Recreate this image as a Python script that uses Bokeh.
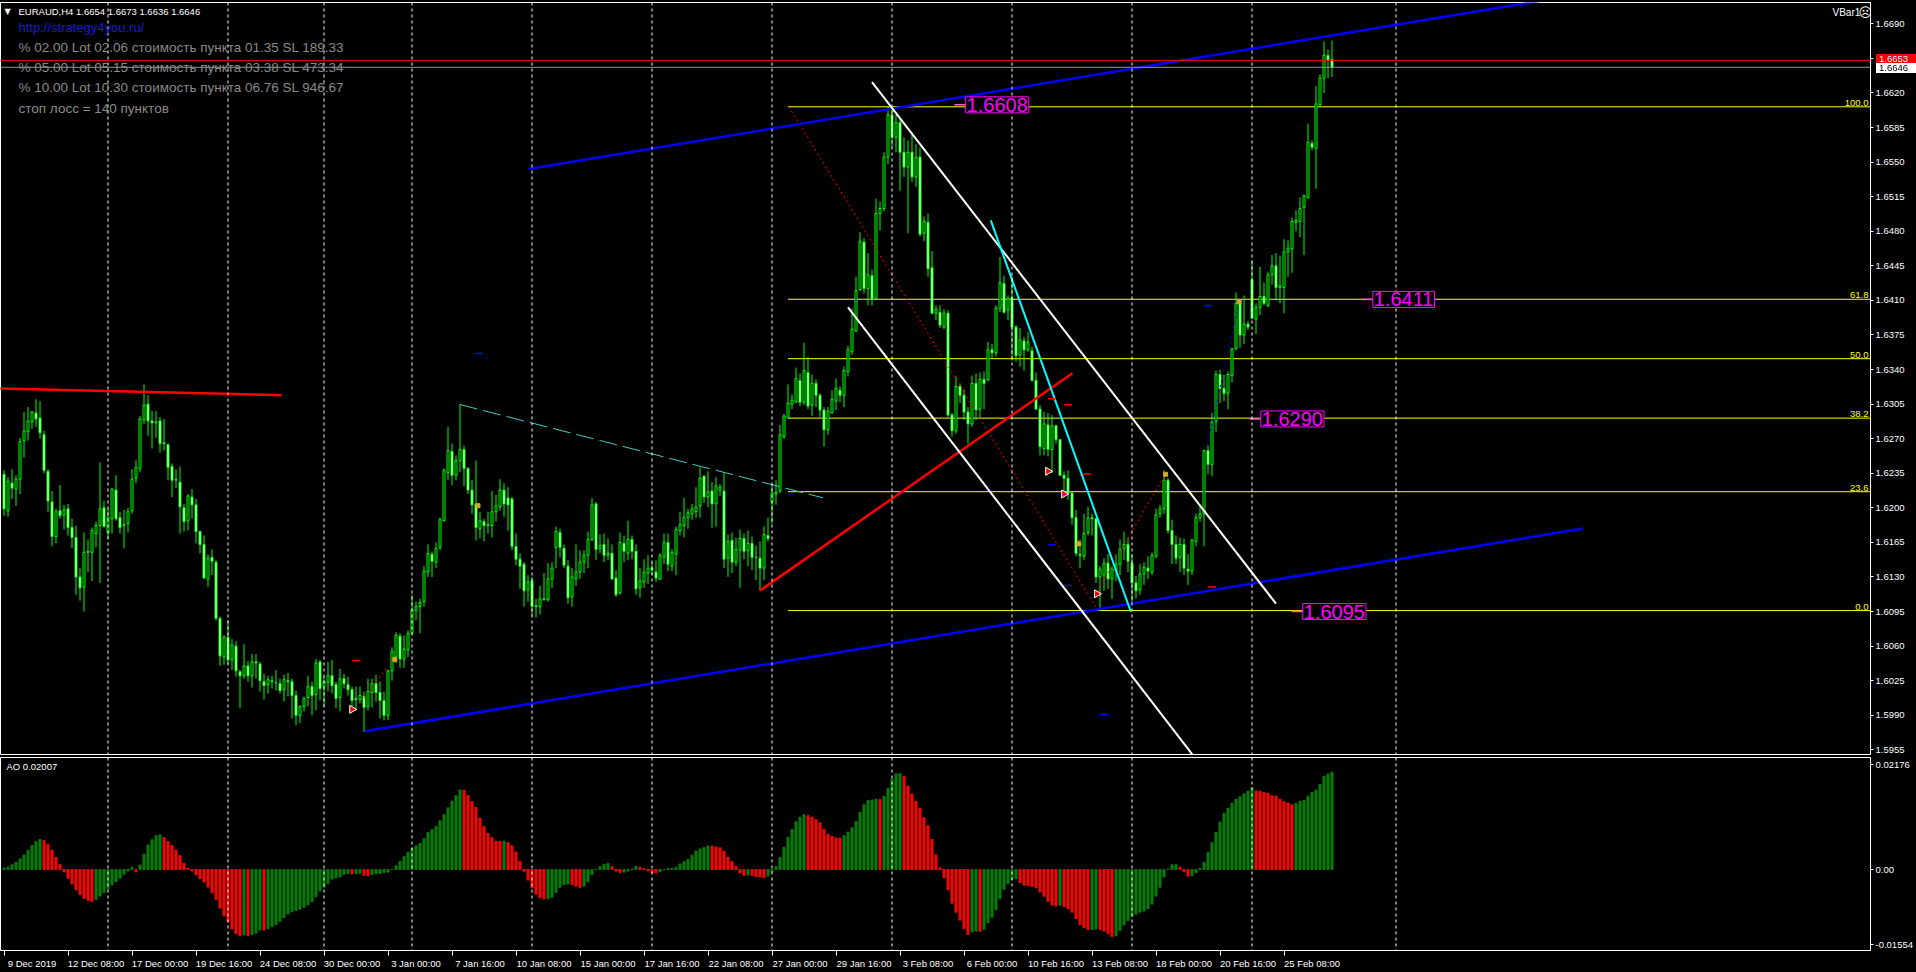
import numpy as np
import pandas as pd
from bokeh.plotting import figure
from bokeh.layouts import column
from bokeh.models import (ColumnDataSource, Range1d, FixedTicker, LinearAxis, Span, Label,
                          PrintfTickFormatter, CustomJSTickFormatter, GlobalInlineStyleSheet)
from bokeh.embed import file_html
from bokeh.resources import INLINE

# ---------------- data: EURAUD H4 candles ----------------
opens = [
1.6234,1.6197,1.6225,1.6219,1.6229,1.6268,1.6277,1.6287,1.6296,1.6291,
1.6274,1.6237,1.6206,1.6171,1.6197,1.6193,1.6199,1.6180,1.6170,1.6130,
1.6120,1.6155,1.6155,1.6174,1.6182,1.6200,1.6175,1.6189,1.6218,1.6190,
1.6182,1.6184,1.6197,1.6230,1.6240,1.6289,1.6305,1.6288,1.6286,1.6288,
1.6265,1.6264,1.6242,1.6228,1.6226,1.6200,1.6187,1.6211,1.6203,1.6176,
1.6163,1.6128,1.6150,1.6145,1.6088,1.6049,1.6069,1.6046,1.6060,1.6034,
1.6030,1.6040,1.6030,1.6044,1.6042,1.6024,1.6021,1.6024,1.6023,1.6022,
1.6016,1.6025,1.6024,1.6010,1.5990,1.5999,1.6008,1.6019,1.6011,1.6044,
1.6019,1.6023,1.6030,1.6021,1.6008,1.6027,1.6021,1.6016,1.6006,1.6006,
1.6009,1.5999,1.6013,1.6022,1.6013,1.6005,1.5990,1.6035,1.6049,1.6070,
1.6047,1.6056,1.6073,1.6096,1.6100,1.6105,1.6135,1.6153,1.6145,1.6160,
1.6187,1.6236,1.6257,1.6233,1.6248,1.6259,1.6240,1.6218,1.6204,1.6179,
1.6186,1.6182,1.6182,1.6196,1.6201,1.6218,1.6210,1.6209,1.6161,1.6148,
1.6143,1.6117,1.6126,1.6100,1.6100,1.6107,1.6107,1.6128,1.6160,1.6175,
1.6159,1.6141,1.6110,1.6128,1.6135,1.6145,1.6152,1.6168,1.6204,1.6159,
1.6163,1.6152,1.6154,1.6129,1.6114,1.6164,1.6154,1.6168,1.6156,1.6119,
1.6125,1.6134,1.6139,1.6135,1.6128,1.6150,1.6165,1.6141,1.6153,1.6177,
1.6182,1.6190,1.6194,1.6196,1.6202,1.6232,1.6211,1.6217,1.6204,1.6218,
1.6217,1.6149,1.6167,1.6145,1.6157,1.6169,1.6157,1.6164,1.6150,1.6149,
1.6139,1.6172,1.6206,1.6214,1.6217,1.6272,1.6291,1.6305,1.6307,1.6329,
1.6307,1.6337,1.6304,1.6326,1.6314,1.6299,1.6279,1.6296,1.6308,1.6319,
1.6314,1.6338,1.6358,1.6379,1.6421,1.6469,1.6422,1.6435,1.6412,1.6498,
1.6503,1.6555,1.6598,1.6575,1.6590,1.6560,1.6545,1.6560,1.6535,1.6555,
1.6478,1.6489,1.6443,1.6397,1.6398,1.6383,1.6397,1.6294,1.6278,1.6323,
1.6314,1.6297,1.6285,1.6326,1.6300,1.6330,1.6330,1.6360,1.6357,1.6402,
1.6427,1.6400,1.6413,1.6383,1.6355,1.6369,1.6360,1.6359,1.6329,1.6300,
1.6260,1.6284,1.6259,1.6283,1.6269,1.6233,1.6230,1.6215,1.6190,1.6153,
1.6151,1.6175,1.6190,1.6189,1.6130,1.6132,1.6144,1.6128,1.6137,1.6143,
1.6159,1.6163,1.6144,1.6124,1.6117,1.6133,1.6139,1.6135,1.6151,1.6194,
1.6199,1.6228,1.6177,1.6163,1.6150,1.6163,1.6138,1.6136,1.6166,1.6190,
1.6194,1.6258,1.6244,1.6287,1.6335,1.6321,1.6316,1.6334,1.6361,1.6407,
1.6375,1.6386,1.6431,1.6391,1.6403,1.6414,1.6405,1.6436,1.6445,1.6423,
1.6423,1.6459,1.6462,1.6489,1.6490,1.6504,1.6514,1.6569,1.6564,1.6608,
1.6635,1.6658,1.6654]

highs = [
1.6238,1.6231,1.6239,1.6233,1.6271,1.6297,1.6302,1.6298,1.6310,1.6308,
1.6278,1.6239,1.6217,1.6199,1.6223,1.6203,1.6204,1.6189,1.6182,1.6139,
1.6175,1.6168,1.6180,1.6186,1.6246,1.6207,1.6199,1.6220,1.6233,1.6196,
1.6198,1.6200,1.6239,1.6248,1.6293,1.6325,1.6314,1.6298,1.6298,1.6292,
1.6290,1.6265,1.6245,1.6239,1.6242,1.6204,1.6214,1.6219,1.6209,1.6177,
1.6172,1.6153,1.6158,1.6147,1.6090,1.6071,1.6086,1.6067,1.6065,1.6036,
1.6062,1.6045,1.6052,1.6052,1.6044,1.6032,1.6030,1.6030,1.6036,1.6027,
1.6031,1.6033,1.6027,1.6015,1.6000,1.6009,1.6030,1.6024,1.6047,1.6046,
1.6029,1.6044,1.6046,1.6024,1.6037,1.6032,1.6029,1.6019,1.6019,1.6019,
1.6014,1.6027,1.6027,1.6031,1.6024,1.6014,1.6036,1.6059,1.6074,1.6073,
1.6071,1.6076,1.6112,1.6105,1.6108,1.6141,1.6163,1.6156,1.6165,1.6190,
1.6240,1.6282,1.6265,1.6253,1.6305,1.6263,1.6241,1.6228,1.6248,1.6196,
1.6189,1.6196,1.6217,1.6213,1.6229,1.6225,1.6221,1.6211,1.6174,1.6154,
1.6145,1.6132,1.6130,1.6108,1.6121,1.6134,1.6144,1.6145,1.6181,1.6179,
1.6163,1.6147,1.6139,1.6163,1.6157,1.6157,1.6176,1.6210,1.6206,1.6173,
1.6174,1.6169,1.6163,1.6137,1.6175,1.6172,1.6187,1.6172,1.6163,1.6139,
1.6148,1.6152,1.6145,1.6147,1.6154,1.6174,1.6174,1.6158,1.6181,1.6196,
1.6210,1.6199,1.6204,1.6221,1.6241,1.6233,1.6237,1.6226,1.6231,1.6224,
1.6235,1.6173,1.6175,1.6170,1.6178,1.6174,1.6177,1.6171,1.6162,1.6166,
1.6181,1.6190,1.6224,1.6228,1.6284,1.6295,1.6325,1.6315,1.6342,1.6336,
1.6367,1.6353,1.6335,1.6330,1.6316,1.6302,1.6302,1.6319,1.6331,1.6323,
1.6343,1.6364,1.6402,1.6434,1.6479,1.6473,1.6458,1.6441,1.6513,1.6510,
1.6560,1.6606,1.6606,1.6598,1.6595,1.6575,1.6572,1.6580,1.6568,1.6565,
1.6495,1.6498,1.6460,1.6405,1.6405,1.6401,1.6400,1.6296,1.6333,1.6326,
1.6320,1.6302,1.6334,1.6336,1.6337,1.6338,1.6368,1.6366,1.6405,1.6454,
1.6435,1.6415,1.6434,1.6385,1.6382,1.6373,1.6378,1.6363,1.6337,1.6304,
1.6297,1.6296,1.6294,1.6284,1.6270,1.6237,1.6238,1.6216,1.6198,1.6168,
1.6194,1.6201,1.6194,1.6190,1.6141,1.6149,1.6153,1.6141,1.6153,1.6168,
1.6176,1.6170,1.6153,1.6131,1.6143,1.6145,1.6151,1.6155,1.6199,1.6203,
1.6238,1.6230,1.6188,1.6172,1.6170,1.6169,1.6153,1.6169,1.6194,1.6203,
1.6259,1.6263,1.6296,1.6339,1.6340,1.6335,1.6338,1.6362,1.6418,1.6409,
1.6415,1.6389,1.6450,1.6407,1.6444,1.6428,1.6439,1.6456,1.6458,1.6455,
1.6472,1.6471,1.6494,1.6501,1.6514,1.6517,1.6589,1.6572,1.6627,1.6639,
1.6672,1.6664,1.6673]

lows = [
1.6192,1.6191,1.6209,1.6202,1.6214,1.6251,1.6268,1.6280,1.6282,1.6270,
1.6235,1.6196,1.6161,1.6164,1.6189,1.6178,1.6172,1.6159,1.6112,1.6106,
1.6095,1.6135,1.6126,1.6160,1.6124,1.6180,1.6169,1.6174,1.6187,1.6174,
1.6159,1.6175,1.6194,1.6225,1.6236,1.6285,1.6273,1.6260,1.6271,1.6256,
1.6258,1.6228,1.6211,1.6220,1.6174,1.6176,1.6177,1.6189,1.6164,1.6154,
1.6128,1.6120,1.6132,1.6086,1.6040,1.6041,1.6042,1.6036,1.6029,1.5997,
1.6027,1.6024,1.6018,1.6027,1.6014,1.6006,1.6012,1.6017,1.6015,1.6012,
1.6004,1.6009,1.5987,1.5980,1.5982,1.5994,1.5999,1.5990,1.5995,1.6005,
1.5999,1.6014,1.6012,1.5997,1.5994,1.6017,1.6010,1.5997,1.5995,1.6002,
1.5973,1.5995,1.5998,1.6004,1.5987,1.5985,1.5985,1.6025,1.6043,1.6038,
1.6038,1.6049,1.6073,1.6086,1.6073,1.6100,1.6130,1.6130,1.6139,1.6157,
1.6186,1.6228,1.6223,1.6228,1.6236,1.6222,1.6214,1.6194,1.6167,1.6169,
1.6166,1.6174,1.6170,1.6186,1.6197,1.6191,1.6177,1.6157,1.6142,1.6118,
1.6100,1.6105,1.6091,1.6089,1.6092,1.6106,1.6105,1.6119,1.6139,1.6150,
1.6139,1.6103,1.6100,1.6121,1.6128,1.6134,1.6139,1.6166,1.6147,1.6154,
1.6145,1.6147,1.6127,1.6110,1.6112,1.6145,1.6147,1.6148,1.6112,1.6109,
1.6119,1.6123,1.6132,1.6125,1.6127,1.6143,1.6136,1.6136,1.6132,1.6172,
1.6170,1.6179,1.6188,1.6190,1.6190,1.6205,1.6201,1.6180,1.6181,1.6212,
1.6139,1.6130,1.6134,1.6141,1.6119,1.6148,1.6141,1.6137,1.6127,1.6116,
1.6127,1.6166,1.6184,1.6203,1.6215,1.6270,1.6291,1.6300,1.6306,1.6303,
1.6304,1.6300,1.6293,1.6302,1.6292,1.6262,1.6274,1.6296,1.6299,1.6307,
1.6302,1.6333,1.6355,1.6378,1.6419,1.6417,1.6405,1.6405,1.6411,1.6481,
1.6500,1.6548,1.6565,1.6560,1.6521,1.6535,1.6478,1.6530,1.6525,1.6475,
1.6470,1.6434,1.6396,1.6390,1.6382,1.6381,1.6292,1.6272,1.6275,1.6306,
1.6289,1.6265,1.6282,1.6289,1.6291,1.6300,1.6328,1.6351,1.6353,1.6398,
1.6397,1.6390,1.6349,1.6348,1.6343,1.6339,1.6358,1.6328,1.6299,1.6253,
1.6253,1.6252,1.6235,1.6265,1.6232,1.6213,1.6208,1.6183,1.6151,1.6139,
1.6147,1.6172,1.6172,1.6124,1.6099,1.6116,1.6118,1.6108,1.6126,1.6132,
1.6147,1.6135,1.6103,1.6108,1.6112,1.6122,1.6128,1.6132,1.6149,1.6190,
1.6194,1.6174,1.6143,1.6143,1.6135,1.6132,1.6122,1.6132,1.6161,1.6186,
1.6161,1.6234,1.6232,1.6277,1.6306,1.6308,1.6300,1.6327,1.6360,1.6362,
1.6366,1.6380,1.6391,1.6376,1.6395,1.6405,1.6403,1.6426,1.6410,1.6407,
1.6397,1.6434,1.6438,1.6480,1.6474,1.6456,1.6513,1.6562,1.6523,1.6606,
1.6620,1.6635,1.6636]

closes = [
1.6199,1.6227,1.6220,1.6229,1.6267,1.6278,1.6288,1.6297,1.6290,1.6276,
1.6238,1.6207,1.6171,1.6196,1.6192,1.6198,1.6180,1.6170,1.6130,1.6119,
1.6155,1.6156,1.6177,1.6182,1.6199,1.6181,1.6190,1.6219,1.6189,1.6180,
1.6183,1.6196,1.6229,1.6241,1.6290,1.6304,1.6288,1.6286,1.6287,1.6265,
1.6266,1.6241,1.6228,1.6229,1.6201,1.6186,1.6212,1.6203,1.6176,1.6163,
1.6129,1.6149,1.6146,1.6088,1.6050,1.6069,1.6046,1.6061,1.6035,1.6030,
1.6040,1.6030,1.6044,1.6043,1.6025,1.6020,1.6026,1.6025,1.6023,1.6015,
1.6026,1.6024,1.6010,1.5990,1.5999,1.6007,1.6019,1.6010,1.6043,1.6017,
1.6024,1.6030,1.6020,1.6007,1.6027,1.6022,1.6016,1.6005,1.6007,1.6010,
1.5998,1.6014,1.6022,1.6013,1.6005,1.5990,1.6035,1.6055,1.6071,1.6047,
1.6057,1.6073,1.6097,1.6100,1.6104,1.6136,1.6154,1.6146,1.6159,1.6188,
1.6238,1.6258,1.6233,1.6248,1.6259,1.6240,1.6218,1.6203,1.6180,1.6187,
1.6182,1.6183,1.6196,1.6202,1.6218,1.6204,1.6203,1.6161,1.6148,1.6141,
1.6116,1.6125,1.6100,1.6101,1.6108,1.6108,1.6128,1.6139,1.6176,1.6160,
1.6142,1.6109,1.6130,1.6135,1.6145,1.6152,1.6168,1.6203,1.6158,1.6162,
1.6152,1.6154,1.6128,1.6112,1.6165,1.6156,1.6168,1.6156,1.6118,1.6126,
1.6135,1.6139,1.6137,1.6129,1.6152,1.6165,1.6143,1.6155,1.6178,1.6183,
1.6190,1.6195,1.6199,1.6201,1.6230,1.6211,1.6216,1.6204,1.6222,1.6221,
1.6148,1.6166,1.6145,1.6158,1.6169,1.6156,1.6164,1.6150,1.6150,1.6139,
1.6173,1.6169,1.6215,1.6216,1.6274,1.6293,1.6306,1.6309,1.6331,1.6307,
1.6339,1.6303,1.6326,1.6314,1.6299,1.6279,1.6298,1.6310,1.6321,1.6314,
1.6339,1.6360,1.6381,1.6420,1.6470,1.6422,1.6436,1.6411,1.6498,1.6503,
1.6555,1.6598,1.6575,1.6590,1.6560,1.6545,1.6560,1.6535,1.6555,1.6477,
1.6490,1.6442,1.6397,1.6401,1.6385,1.6397,1.6294,1.6278,1.6323,1.6314,
1.6297,1.6285,1.6326,1.6299,1.6330,1.6326,1.6360,1.6357,1.6402,1.6428,
1.6398,1.6412,1.6383,1.6354,1.6370,1.6360,1.6368,1.6329,1.6300,1.6262,
1.6285,1.6259,1.6283,1.6269,1.6233,1.6230,1.6215,1.6190,1.6154,1.6152,
1.6174,1.6190,1.6189,1.6130,1.6138,1.6144,1.6128,1.6138,1.6143,1.6158,
1.6163,1.6146,1.6124,1.6116,1.6133,1.6140,1.6136,1.6152,1.6193,1.6199,
1.6228,1.6177,1.6163,1.6149,1.6163,1.6139,1.6136,1.6167,1.6190,1.6194,
1.6258,1.6244,1.6287,1.6335,1.6321,1.6316,1.6335,1.6361,1.6407,1.6375,
1.6386,1.6383,1.6392,1.6403,1.6414,1.6407,1.6436,1.6445,1.6423,1.6425,
1.6459,1.6463,1.6490,1.6491,1.6503,1.6516,1.6570,1.6565,1.6609,1.6635,
1.6658,1.6653,1.6646]

# AO values of the first 33 bars (history before the window)
ao_head = [0.0003, 0.0005, 0.0010, 0.0015, 0.0022, 0.0030, 0.0040, 0.0050, 0.0058, 0.0062,
           0.0060, 0.0052, 0.0040, 0.0025, 0.0010, -0.0005, -0.0018, -0.0030, -0.0042, -0.0052,
           -0.0060, -0.0064, -0.0066, -0.0062, -0.0055, -0.0048, -0.0040, -0.0032, -0.0025, -0.0018,
           -0.0010, -0.0003, 0.0005]

# time axis
date_tick_bars = [0, 16, 32, 48, 64, 80, 96, 112, 128, 144, 160, 176, 192, 208, 224, 240, 256, 272, 288, 304, 320]
date_tick_labels = ["9 Dec 2019", "12 Dec 08:00", "17 Dec 00:00", "19 Dec 16:00", "24 Dec 08:00",
                    "30 Dec 00:00", "3 Jan 00:00", "7 Jan 16:00", "10 Jan 08:00", "15 Jan 00:00",
                    "17 Jan 16:00", "22 Jan 08:00", "27 Jan 00:00", "29 Jan 16:00", "3 Feb 08:00",
                    "6 Feb 00:00", "10 Feb 16:00", "13 Feb 08:00", "18 Feb 00:00", "20 Feb 16:00",
                    "25 Feb 08:00"]
week_grid_bars = [26, 56, 80, 102, 132, 162, 192, 222, 252, 282, 312, 348]
price_ticks = [1.5955, 1.5990, 1.6025, 1.6060, 1.6095, 1.6130, 1.6165, 1.6200, 1.6235, 1.6270,
               1.6305, 1.6340, 1.6375, 1.6410, 1.6445, 1.6480, 1.6515, 1.6550, 1.6585, 1.6620,
               1.6655, 1.6690]
ao_ticks = [-0.01554, 0.0, 0.02176]

# fibonacci
fib_high, fib_low = 1.6606, 1.6096
fib_levels = [100.0, 61.8, 50.0, 38.2, 23.6, 0.0]
fib_start_bar = 196

# bid / ask
ask_price, bid_price = 1.6653, 1.6646

# user price labels (magenta)
mark_prices = [1.6608, 1.6411, 1.6290, 1.6095]
mark_bars = [240.4, 342.2, 314.2, 324.7]

# trend lines: (x0, y0, x1, y1)
blue_lines = [(131.2, 1.6543, 400.0, 1.6724), (90.2, 1.59738, 394.8, 1.61791)]
white_lines = [(217.0, 1.6631, 318.0, 1.6103), (211.0, 1.6403, 300.0, 1.5935)]
red_solid_lines = [(-2.0, 1.6321, 69.4, 1.6314), (189.0, 1.61163, 267.1, 1.63363)]
cyan_solid_lines = [(246.7, 1.6491, 281.7, 1.6095)]
cyan_dashed_lines = [(114.0, 1.63046, 204.8, 1.62101)]
red_dotted_lines = [(196.2, 1.6606, 273.5, 1.6096), (272.8, 1.6112, 290.3, 1.6234), (89.3, 1.6003, 96.0, 1.6040)]
blue_dotted_lines = [(300.8, 1.6263, 308.8, 1.6409)]
red_dash_marks = [(87.1, 1.60455), (261.0, 1.63104), (265.0, 1.63043), (269.8, 1.62342), (301.0, 1.61199)]
blue_dash_marks = [(117.7, 1.63563), (261.0, 1.61626), (265.0, 1.61213), (300.0, 1.64048), (274.0, 1.59911)]
arrow_marks = [(87.0, 1.5996), (261.0, 1.6237), (265.0, 1.6214), (273.2, 1.6113)]
orange_marks = [(97.7, 1.60466), (118.5, 1.62022), (268.7, 1.61636), (290.4, 1.6234), (308.8, 1.64086)]

# ---------------- derived ----------------
o = np.array(opens); h = np.array(highs); l = np.array(lows); c = np.array(closes)
n = len(c)
idx = np.arange(n)
bull = c >= o
median = pd.Series((h + l) / 2.0)
ao = (median.rolling(5).mean() - median.rolling(34).mean()).to_numpy()
ao[:len(ao_head)] = ao_head
ao_col = ["#008000"] + ["#008000" if ao[i] > ao[i - 1] else "#FF0000" for i in range(1, n)]

FONT = "Liberation Sans"
W = 1916
FRAME_W = 1870
X0 = -0.875
P_TOP, P_BOT = 1.67116, 1.59503
A_TOP, A_BOT = 0.023211, -0.016783


def py(yp):
    return P_TOP - (yp - 2) * (P_TOP - P_BOT) / 752.0


def ay(yp):
    return A_TOP - (yp - 757) * (A_TOP - A_BOT) / 193.0


xr = Range1d(X0, X0 + FRAME_W / 4.0)

main = figure(width=W, height=756, x_range=xr, y_range=Range1d(P_BOT, P_TOP),
              output_backend="svg", toolbar_location=None, x_axis_location=None,
              y_axis_location="right", min_border_left=0, min_border_right=46,
              min_border_top=2, min_border_bottom=2, background_fill_color="black",
              border_fill_color="black", outline_line_color="white")
main.grid.visible = False

ao_fig = figure(width=W, height=215, x_range=xr, y_range=Range1d(A_BOT, A_TOP),
                output_backend="svg", toolbar_location=None, x_axis_location=None,
                y_axis_location="right", min_border_left=0, min_border_right=46,
                min_border_top=1, min_border_bottom=21, background_fill_color="black",
                border_fill_color="black", outline_line_color="white")
ao_fig.grid.visible = False


def style_y(ax):
    ax.axis_line_color = "white"
    ax.major_tick_line_color = "white"
    ax.major_tick_out = 3
    ax.major_tick_in = 0
    ax.minor_tick_out = 0
    ax.minor_tick_in = 0
    ax.major_label_standoff = 2
    ax.major_label_text_color = "white"
    ax.major_label_text_font = FONT
    ax.major_label_text_font_size = "9.5px"


for ax in main.yaxis:
    style_y(ax)
    ax.ticker = FixedTicker(ticks=price_ticks)
    ax.formatter = PrintfTickFormatter(format="%.4f")
for ax in ao_fig.yaxis:
    style_y(ax)
    ax.ticker = FixedTicker(ticks=ao_ticks)
    ax.formatter = CustomJSTickFormatter(code="return tick === 0 ? '0.00' : tick.toFixed(5);")

# time axis: small tick marks (minor ticks) at each date, label placed just right of it
label_pos = [b + 7 for b in date_tick_bars]
time_axis = LinearAxis(ticker=FixedTicker(ticks=label_pos, minor_ticks=date_tick_bars),
                       axis_line_color="white", major_tick_line_color=None,
                       major_tick_out=5, major_tick_in=0,
                       minor_tick_line_color="white", minor_tick_out=5, minor_tick_in=0,
                       major_label_standoff=2, major_label_text_color="white",
                       major_label_text_font=FONT, major_label_text_font_size="9.5px",
                       major_label_overrides={p: t for p, t in zip(label_pos, date_tick_labels)})
ao_fig.add_layout(time_axis, "below")

# weekly dashed grid
for b in week_grid_bars:
    for fig in (main, ao_fig):
        fig.add_layout(Span(location=b, dimension="height", line_color="white",
                            line_width=1, line_dash="3 3"))

# fib levels
fib_prices = [fib_low + lv / 100.0 * (fib_high - fib_low) for lv in fib_levels]
main.segment(x0=[fib_start_bar] * len(fib_prices), y0=fib_prices, x1=[1000] * len(fib_prices),
             y1=fib_prices, line_color="#FFFF00", line_width=1)
for lv, pr in zip(fib_levels, fib_prices):
    main.add_layout(Label(x=FRAME_W - 2, y=pr, x_units="screen", text=f"{lv:.1f}",
                          text_align="right", text_baseline="bottom", y_offset=1,
                          text_color="#FFFF00", text_font=FONT, text_font_size="9.5px"))

# ask / bid lines
main.add_layout(Span(location=ask_price, dimension="width", line_color="#FF0000", line_width=1))
main.add_layout(Span(location=bid_price, dimension="width", line_color="#8C96A0", line_width=1))

# candles
src = ColumnDataSource(dict(x=idx, h=h, l=l, top=np.maximum(o, c), bot=np.minimum(o, c),
                            fill=np.where(bull, "#000000", "#FFFFFF")))
main.segment(x0="x", y0="l", x1="x", y1="h", source=src, line_color="#00FF00", line_width=1)
main.vbar(x="x", width=0.5, top="top", bottom="bot", source=src, fill_color="fill",
          line_color="#00FF00", line_width=1)


def draw_lines(lines, color, width, dash="solid"):
    main.segment(x0=[s[0] for s in lines], y0=[s[1] for s in lines],
                 x1=[s[2] for s in lines], y1=[s[3] for s in lines],
                 line_color=color, line_width=width, line_dash=dash)


draw_lines(red_dotted_lines, "#FF0000", 1, "2 3")
draw_lines(blue_dotted_lines, "#0000FF", 1, "2 3")
draw_lines(cyan_dashed_lines, "#48C8C8", 1, "18 6")
draw_lines(red_solid_lines, "#FF0000", 2.5)
draw_lines(blue_lines, "#0000FF", 2.5)
draw_lines(white_lines, "#FFFFFF", 2)
draw_lines(cyan_solid_lines, "#00FFFF", 2)

main.segment(x0=[m[0] for m in red_dash_marks], y0=[m[1] for m in red_dash_marks],
             x1=[m[0] + 2 for m in red_dash_marks], y1=[m[1] for m in red_dash_marks],
             line_color="#FF0000", line_width=1.5)
main.segment(x0=[m[0] for m in blue_dash_marks], y0=[m[1] for m in blue_dash_marks],
             x1=[m[0] + 2 for m in blue_dash_marks], y1=[m[1] for m in blue_dash_marks],
             line_color="#0000FF", line_width=1.5)
main.scatter(x=[m[0] for m in arrow_marks], y=[m[1] for m in arrow_marks], marker="triangle",
             angle=-np.pi / 2, size=8, fill_color="#FF0000", line_color="white", line_width=1)
main.scatter(x=[m[0] for m in orange_marks], y=[m[1] for m in orange_marks], marker="square",
             size=4, fill_color="#DAA520", line_color="#DAA520")

# user price labels + short leader lines
main.segment(x0=[b - 2.8 for b in mark_bars], y0=mark_prices, x1=mark_bars, y1=mark_prices,
             line_color="#FF55DD", line_width=1.5)
for b, pr in zip(mark_bars, mark_prices):
    main.add_layout(Label(x=b, y=pr, text=f"{pr:.4f}", text_color="#FF00FF", text_font=FONT,
                          text_font_size="20px", text_baseline="middle", text_align="left",
                          background_fill_color="black", border_line_color="#FF00FF",
                          border_line_width=1, padding=1))

# header texts
hdr = dict(x_units="screen", text_font=FONT, text_baseline="middle")
main.add_layout(Label(x=4, y=py(11), text="\u25bc", text_color="white", text_font_size="8px",
                      x_units="screen", text_font="DejaVu Sans", text_baseline="middle"))
main.add_layout(Label(x=18, y=py(11), text="EURAUD,H4  1.6654 1.6673 1.6636 1.6646",
                      text_color="white", text_font_size="9.5px", **hdr))
main.add_layout(Label(x=18, y=py(27), text="http://strategy4you.ru/", text_color="#1A1AD6",
                      text_font_size="13px", **hdr))
info_lines = ["% 02.00  Lot 02.06  стоимость пункта 01.35  SL 189.33",
              "% 05.00  Lot 05.15  стоимость пункта 03.38  SL 473.34",
              "% 10.00  Lot 10.30  стоимость пункта 06.76  SL 946.67",
              "стоп лосс = 140 пунктов"]
for txt, yp in zip(info_lines, [46.5, 66.5, 86.5, 107.5]):
    main.add_layout(Label(x=18, y=py(yp), text=txt, text_color="#8A8A8A",
                          text_font_size="13.5px", **hdr))
main.add_layout(Label(x=1832, y=py(12), text="VBar1", text_color="white", text_font_size="10px", **hdr))
main.add_layout(Label(x=1858, y=py(12), text="\u2639", text_color="white", text_font_size="13px",
                      x_units="screen", text_font="DejaVu Sans", text_baseline="middle"))

# AO histogram
ao_fig.vbar(x=idx, width=0.5, top=ao, bottom=0, fill_color=ao_col, line_color=ao_col, line_width=1)
ao_fig.add_layout(Label(x=6, y=ay(766), x_units="screen", text="AO 0.02007", text_color="white",
                        text_font=FONT, text_font_size="9.5px", text_baseline="middle"))

# page style + ask/bid price boxes on the price scale (drawn over the scale area)
box_css = ("position:fixed; left:1876px; width:37px; height:10px; padding-left:3px; "
           "font-family:'Liberation Sans'; font-size:9.5px; line-height:10px; z-index:100;")
page_css = GlobalInlineStyleSheet(css=(
    "html, body { margin: 0 !important; padding: 0; background: #000000; overflow: hidden; }\n"
    f"body::before {{ content: '{ask_price:.4f}'; top: 54px; background: #FF0000; color: #FFFFFF; {box_css} }}\n"
    f"body::after {{ content: '{bid_price:.4f}'; top: 63px; background: #FFFFFF; color: #000000; {box_css} }}\n"))
layout = column(main, ao_fig, spacing=0, stylesheets=[page_css])

open("out.html", "w").write(file_html(layout, INLINE))
